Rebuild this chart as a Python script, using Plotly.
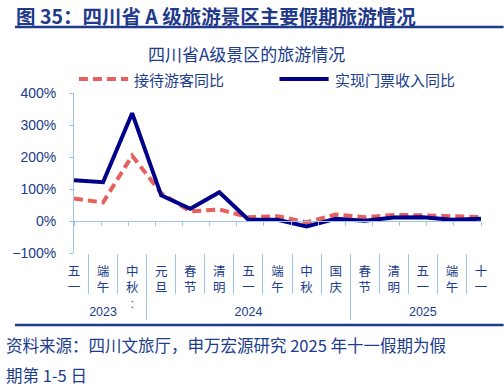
import plotly.graph_objects as go

years = ["2023"] * 3 + ["2024"] * 7 + ["2025"] * 5
holidays = ["五<br>一", "端<br>午", "中<br>秋<br>:",
            "元<br>旦", "春<br>节", "清<br>明", "五<br>一", "端<br>午", "中<br>秋", "国<br>庆",
            "春<br>节", "清<br>明", "五<br>一", "端<br>午", "十<br>一"]
visitors_yoy = [70, 58, 204, 87, 30, 36, 12, 15, -4, 20, 12, 19, 18, 15, 12]
revenue_yoy = [127, 121, 337, 80, 38, 90, 4, 4, -17, 7, 1, 11, 12, 4, 7]
series_names = ["接待游客同比", "实现门票收入同比"]
series_colors = ["#E8605E", "#00008B"]
series_dash = ["9px,5px", "solid"]

# make repeated holiday names unique (invisible zero-width suffix) so the
# multicategory axis keeps the chronological order
seen = {}
holiday_keys = []
for h in holidays:
    n = seen.get(h, 0)
    holiday_keys.append(h + "\u200b" * n)
    seen[h] = n + 1

TXT = "#203C8C"
AX = "#9DC3E6"
FONT = "Liberation Sans, Arial, Noto Sans CJK SC, sans-serif"
CJK = "Noto Sans CJK SC, sans-serif"

W, H = 504, 386
ML, MR, MT, MB = 67, 23, 93, 133
pw, ph = W - ML - MR, H - MT - MB

def px_x(p):
    return (p - ML) / pw

def px_y(p):
    return (H - MB - p) / ph

fig = go.Figure()
for name, vals, col, dsh in zip(series_names, [visitors_yoy, revenue_yoy], series_colors, series_dash):
    fig.add_trace(go.Scatter(x=[years, holiday_keys], y=vals, name=name, mode="lines",
                             line=dict(color=col, width=4, dash=dsh)))

ymin, ymax = -100, 400
zero_pos = (0 - ymin) / (ymax - ymin)

fig.update_layout(
    width=W, height=H, autosize=False,
    margin=dict(l=ML, r=MR, t=MT, b=MB, pad=0),
    paper_bgcolor="white", plot_bgcolor="white",
    font=dict(family=FONT, color=TXT, size=14),
    showlegend=False,
    xaxis=dict(type="multicategory", showgrid=False, showline=False, zeroline=False,
               ticks="outside", tickson="boundaries", ticklen=40, tickcolor=AX, tickwidth=1,
               ticklabelstandoff=9,
               dividercolor=AX, dividerwidth=1,
               tickfont=dict(family=FONT, size=12.5, color=TXT)),
    xaxis2=dict(overlaying="x", anchor="free", position=zero_pos, type="linear",
                range=[-0.5, len(holidays) - 0.5], tick0=-0.5, dtick=1,
                showline=True, linecolor=AX, linewidth=1, ticks="outside", ticklen=4,
                tickcolor=AX, showticklabels=False, showgrid=False, zeroline=False),
    yaxis=dict(range=[ymin, ymax], dtick=100, ticksuffix="%", showgrid=False, zeroline=False,
               showline=True, linecolor=AX, linewidth=1, ticks="outside", ticklen=4, tickcolor=AX,
               tickfont=dict(family=FONT, size=14, color=TXT), ticklabelstandoff=10),
)

# invisible helper trace so the zero-line axis (x2) is drawn
fig.add_trace(go.Scatter(x=[-0.5, len(holidays) - 0.5], y=[0, 0], xaxis="x2", mode="lines",
                         line=dict(width=0), hoverinfo="skip", showlegend=False))

# legend (drawn as key lines + labels)
legend_starts = [72, 276]
for x0, name, col, dsh in zip(legend_starts, series_names, series_colors, series_dash):
    fig.add_shape(type="line", xref="paper", yref="paper", x0=px_x(x0), x1=px_x(x0 + 50),
                  y0=px_y(79), y1=px_y(79), line=dict(color=col, width=4, dash=dsh))
    fig.add_annotation(text=name, xref="paper", yref="paper", x=px_x(x0 + 54), y=px_y(79),
                       xanchor="left", yanchor="middle", showarrow=False,
                       font=dict(family=CJK, size=15, color=TXT))

fig.add_annotation(text="<b>图 35：四川省 A 级旅游景区主要假期旅游情况</b>", xref="paper", yref="paper",
                   x=px_x(6), y=px_y(15), xanchor="left", yanchor="middle", showarrow=False,
                   font=dict(family=CJK, size=19.5, color="#1F3A8A"))
fig.add_annotation(text="四川省A级景区的旅游情况", xref="paper", yref="paper",
                   x=px_x(242), y=px_y(53), xanchor="center", yanchor="middle", showarrow=False,
                   font=dict(family=CJK, size=17, color=TXT))
fig.add_annotation(text="资料来源：四川文旅厅，申万宏源研究 2025 年十一假期为假", xref="paper", yref="paper",
                   x=px_x(-4), y=px_y(345), xanchor="left", yanchor="middle", showarrow=False,
                   font=dict(family=CJK, size=16.5, color=TXT))
fig.add_annotation(text="期第 1-5 日", xref="paper", yref="paper",
                   x=px_x(-4), y=px_y(375), xanchor="left", yanchor="middle", showarrow=False,
                   font=dict(family=CJK, size=16.5, color=TXT))

for yy in (27, 325):
    fig.add_shape(type="line", xref="paper", yref="paper", x0=px_x(7), x1=px_x(504),
                  y0=px_y(yy), y1=px_y(yy), line=dict(color="#1F3A8A", width=2.5))

fig.write_html("out.html", config={"displayModeBar": False},
               post_script="document.body.style.margin='0';document.body.style.padding='0';")
